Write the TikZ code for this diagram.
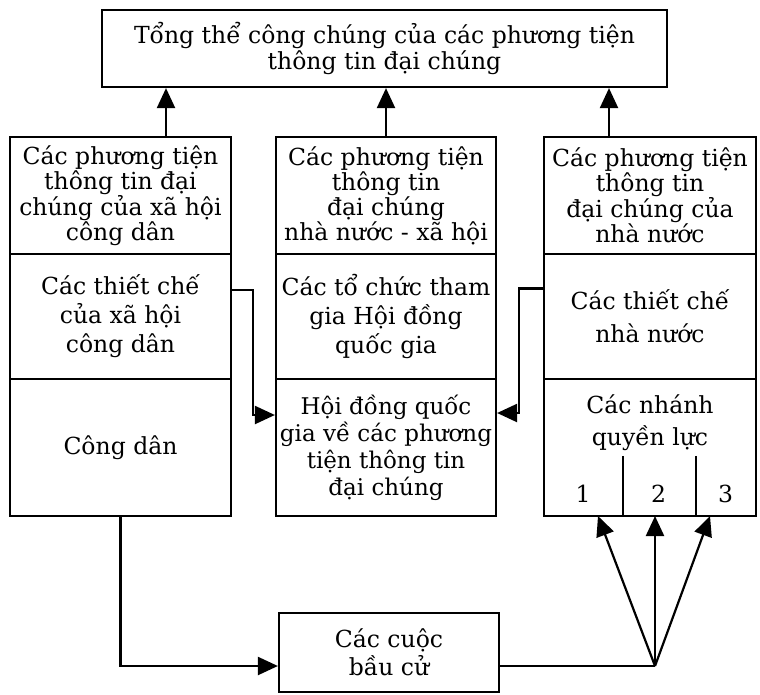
\documentclass[tikz,border=0pt]{standalone}
\usepackage{fontspec}
\setmainfont{DejaVu Serif}
\usepackage{tikz}
\usetikzlibrary{arrows.meta,calc}

\begin{document}
\begin{tikzpicture}[x=1pt,y=-1pt,>={Triangle[length=20pt,width=18pt]},line width=2.2pt,
  box/.style={draw,rectangle,inner sep=0pt,align=center,font=\fontsize{23.5}{28}\selectfont},
  tight/.style={font=\fontsize{23.5}{23.5}\selectfont},
  colL/.style={box,minimum width=221pt},
  colM/.style={box,minimum width=220pt},
  colR/.style={box,minimum width=212pt},
  rowA/.style={minimum height=117pt},
  rowB/.style={minimum height=125pt},
  rowC/.style={minimum height=137pt},
  cell/.style={inner sep=0pt,minimum height=59pt,text height=31pt,text depth=0pt,font=\fontsize{23.5}{28}\selectfont}]
  \useasboundingbox (0,0) rectangle (760,694);
  \node[box,minimum width=565pt,minimum height=77pt,font=\fontsize{23.5}{26}\selectfont] (tong) at (384.5,48.5)
    {Tổng thể công chúng của các phương tiện\\thông tin đại chúng};
  % three columns
  \node[colL,rowA,tight] (l1) at (120.5,195.5) {Các phương tiện\\thông tin đại\\chúng của xã hội\\công dân};
  \node[colL,rowB,font=\fontsize{23.5}{29}\selectfont] (l2) at (120.5,316.5) {Các thiết chế\\của xã hội\\công dân};
  \node[colL,rowC] (l3) at (120.5,447.5) {Công dân};
  \node[colM,rowA,tight] (m1) at (386,195.5) {Các phương tiện\\thông tin\\đại chúng\\nhà nước - xã hội};
  \node[colM,rowB,font=\fontsize{23.5}{29}\selectfont] (m2) at (386,316.5) {Các tổ chức tham\\gia Hội đồng\\quốc gia};
  \node[colM,rowC,font=\fontsize{23}{27}\selectfont] (m3) at (386,447.5) {Hội đồng quốc\\gia về các phương\\tiện thông tin\\đại chúng};
  \node[colR,rowA,tight] (r1) at (650,195.5) {Các phương tiện\\thông tin\\đại chúng của\\nhà nước};
  \node[colR,rowB,font=\fontsize{23.5}{33}\selectfont] (r2) at (650,316.5) {Các thiết chế\\nhà nước};
  \node[colR,rowC] (r3) at (650,447.5) {};
  \node[align=center,inner sep=0pt,font=\fontsize{23.5}{32}\selectfont] (r3t) at (650,423) {Các nhánh\\quyền lực};
  \foreach \i/\x/\w in {1/583/78,2/658.5/73,3/725.5/61}
    \node[cell,minimum width=\w pt] (n\i) at (\x,486.5) {\i};
  \foreach \i in {1,2}
    \draw (n\i.north east) -- (n\i.south east);
  \node[box,minimum width=220pt,minimum height=79pt] (bau) at (389,652.5) {Các cuộc\\bầu cử};
  % arrows
  \coordinate (a1) at ($(l1.north)+(45.5,0)$);
  \coordinate (a3) at ($(r1.north)+(-41,0)$);
  \draw[->] (a1) -- (a1 |- tong.south);
  \draw[->] (m1.north) -- (m1.north |- tong.south);
  \draw[->] (a3) -- (a3 |- tong.south);
  \draw[->] ($(l2.east)+(0,-26.5)$) -- ++(21,0) |- ($(m3.west)+(0,-32.5)$);
  \draw[->] ($(r2.west)+(0,-28)$) -- ++(-24,0) |- ($(m3.east)+(0,-34.5)$);
  \draw[->] (l3.south) |- ($(bau.west)+(0,13.5)$);
  \coordinate (fan) at (655,666);
  \draw ($(bau.east)+(0,13.5)$) -- (fan);
  \foreach \i/\x in {1/598,2/655,3/710}
    \coordinate (t\i) at (\x,516);
  \foreach \i in {1,2,3}
    \draw[->] (fan) -- (t\i);
\end{tikzpicture}
\end{document}
